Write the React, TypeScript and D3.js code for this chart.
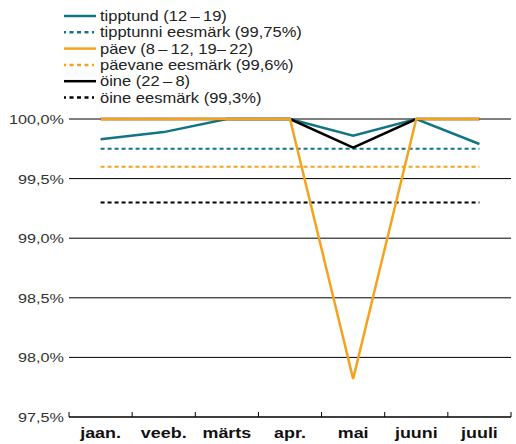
import React from "react";
import * as d3 from "d3";

const months = ["jaan.", "veeb.", "märts", "apr.", "mai", "juuni", "juuli"];
const tipptund = [99.83, 99.89, 100, 100, 99.86, 100, 99.79];
const paev = [100, 100, 100, 100, 97.82, 100, 100];
const oine = [100, 100, 100, 100, 99.76, 100, 100];
const targets = [99.75, 99.6, 99.3];
const yTicks = [97.5, 98, 98.5, 99, 99.5, 100];

const TEAL = "#127587";
const ORANGE = "#f5a21e";
const BLACK = "#000";

const W = 516;
const H = 444;
const margin = { top: 119, right: 5, bottom: 27, left: 69 };

const legendItems = [
  { label: "tipptund (12\u2009\u2013\u200919)", color: TEAL, dash: false },
  { label: "tipptunni eesmärk (99,75%)", color: TEAL, dash: true },
  { label: "päev (8\u2009\u2013\u200912, 19\u2013\u200922)", color: ORANGE, dash: false },
  { label: "päevane eesmärk (99,6%)", color: ORANGE, dash: true },
  { label: "öine (22\u2009\u2013\u20098)", color: BLACK, dash: false },
  { label: "öine eesmärk (99,3%)", color: BLACK, dash: true },
];

// the source picture is stretched sideways, so text gets a horizontal scale
function WideText(props: {
  x: number;
  y: number;
  sx: number;
  size: number;
  anchor?: string;
  bold?: boolean;
  fill?: string;
  children: string;
}) {
  return (
    <text
      transform={`translate(${props.x},${props.y}) scale(${props.sx},1)`}
      fontSize={props.size}
      fontWeight={props.bold ? "bold" : "normal"}
      textAnchor={props.anchor || "start"}
      fill={props.fill || "#222"}
    >
      {props.children}
    </text>
  );
}

export default function App() {
  const x = d3
    .scaleBand<string>()
    .domain(months)
    .range([margin.left, W - margin.right]);
  const y = d3
    .scaleLinear()
    .domain([97.5, 100])
    .range([H - margin.bottom, margin.top]);
  const cx = (m: string) => (x(m) as number) + x.bandwidth() / 2;

  const line = d3
    .line<number>()
    .x((_, i) => cx(months[i]))
    .y((d) => y(d));

  const series = [
    { data: tipptund, color: TEAL },
    { data: oine, color: BLACK },
    { data: paev, color: ORANGE },
  ];
  const targetColors = [TEAL, ORANGE, BLACK];
  const fmt = (v: number) => v.toFixed(1).replace(".", ",") + "%";
  const x0 = cx(months[0]);
  const x1 = cx(months[months.length - 1]);
  const boundaries = months.map((m) => x(m) as number).concat([W - margin.right]);

  return (
    <svg
      width={W}
      height={H}
      style={{ position: "absolute", left: 0, top: 0, fontFamily: "'Liberation Sans', Arial, sans-serif" }}
    >
      {/* legend */}
      {legendItems.map((it, i) => (
        <g key={it.label} transform={`translate(0, ${16 + i * 16.3})`}>
          <line
            x1={64}
            x2={96}
            y1={0}
            y2={0}
            stroke={it.color}
            strokeWidth={2.5}
            strokeDasharray={it.dash ? "2,3.5,4,3.5,4,3.5,4,3.5,2" : undefined}
          />
          <WideText x={100} y={5} sx={1.18} size={14}>
            {it.label}
          </WideText>
        </g>
      ))}

      {/* grid */}
      {yTicks.map((t) => (
        <g key={t}>
          {t > 97.5 && (
            <line x1={margin.left} x2={W - margin.right} y1={y(t)} y2={y(t)} stroke="#000" strokeWidth={1} />
          )}
          <WideText x={64} y={y(t) + 5} sx={1.2} size={13.5} anchor="end" fill="#333">
            {fmt(t)}
          </WideText>
        </g>
      ))}

      {/* targets */}
      {targets.map((t, i) => (
        <line
          key={t}
          x1={x0}
          x2={x1}
          y1={y(t)}
          y2={y(t)}
          stroke={targetColors[i]}
          strokeWidth={2}
          strokeDasharray="4,3"
        />
      ))}

      {/* series */}
      {series.map((s, i) => (
        <path key={i} d={line(s.data) as string} fill="none" stroke={s.color} strokeWidth={2.5} />
      ))}

      {/* x axis */}
      <line x1={margin.left} x2={W - margin.right} y1={y(97.5)} y2={y(97.5)} stroke="#000" strokeWidth={1.5} />
      {boundaries.map((b, i) => (
        <line key={i} x1={b} x2={b} y1={y(97.5)} y2={y(97.5) - 5} stroke="#000" strokeWidth={1} />
      ))}
      {months.map((m) => (
        <WideText key={m} x={cx(m)} y={438} sx={1.28} size={14} bold anchor="middle" fill="#111">
          {m}
        </WideText>
      ))}
    </svg>
  );
}
